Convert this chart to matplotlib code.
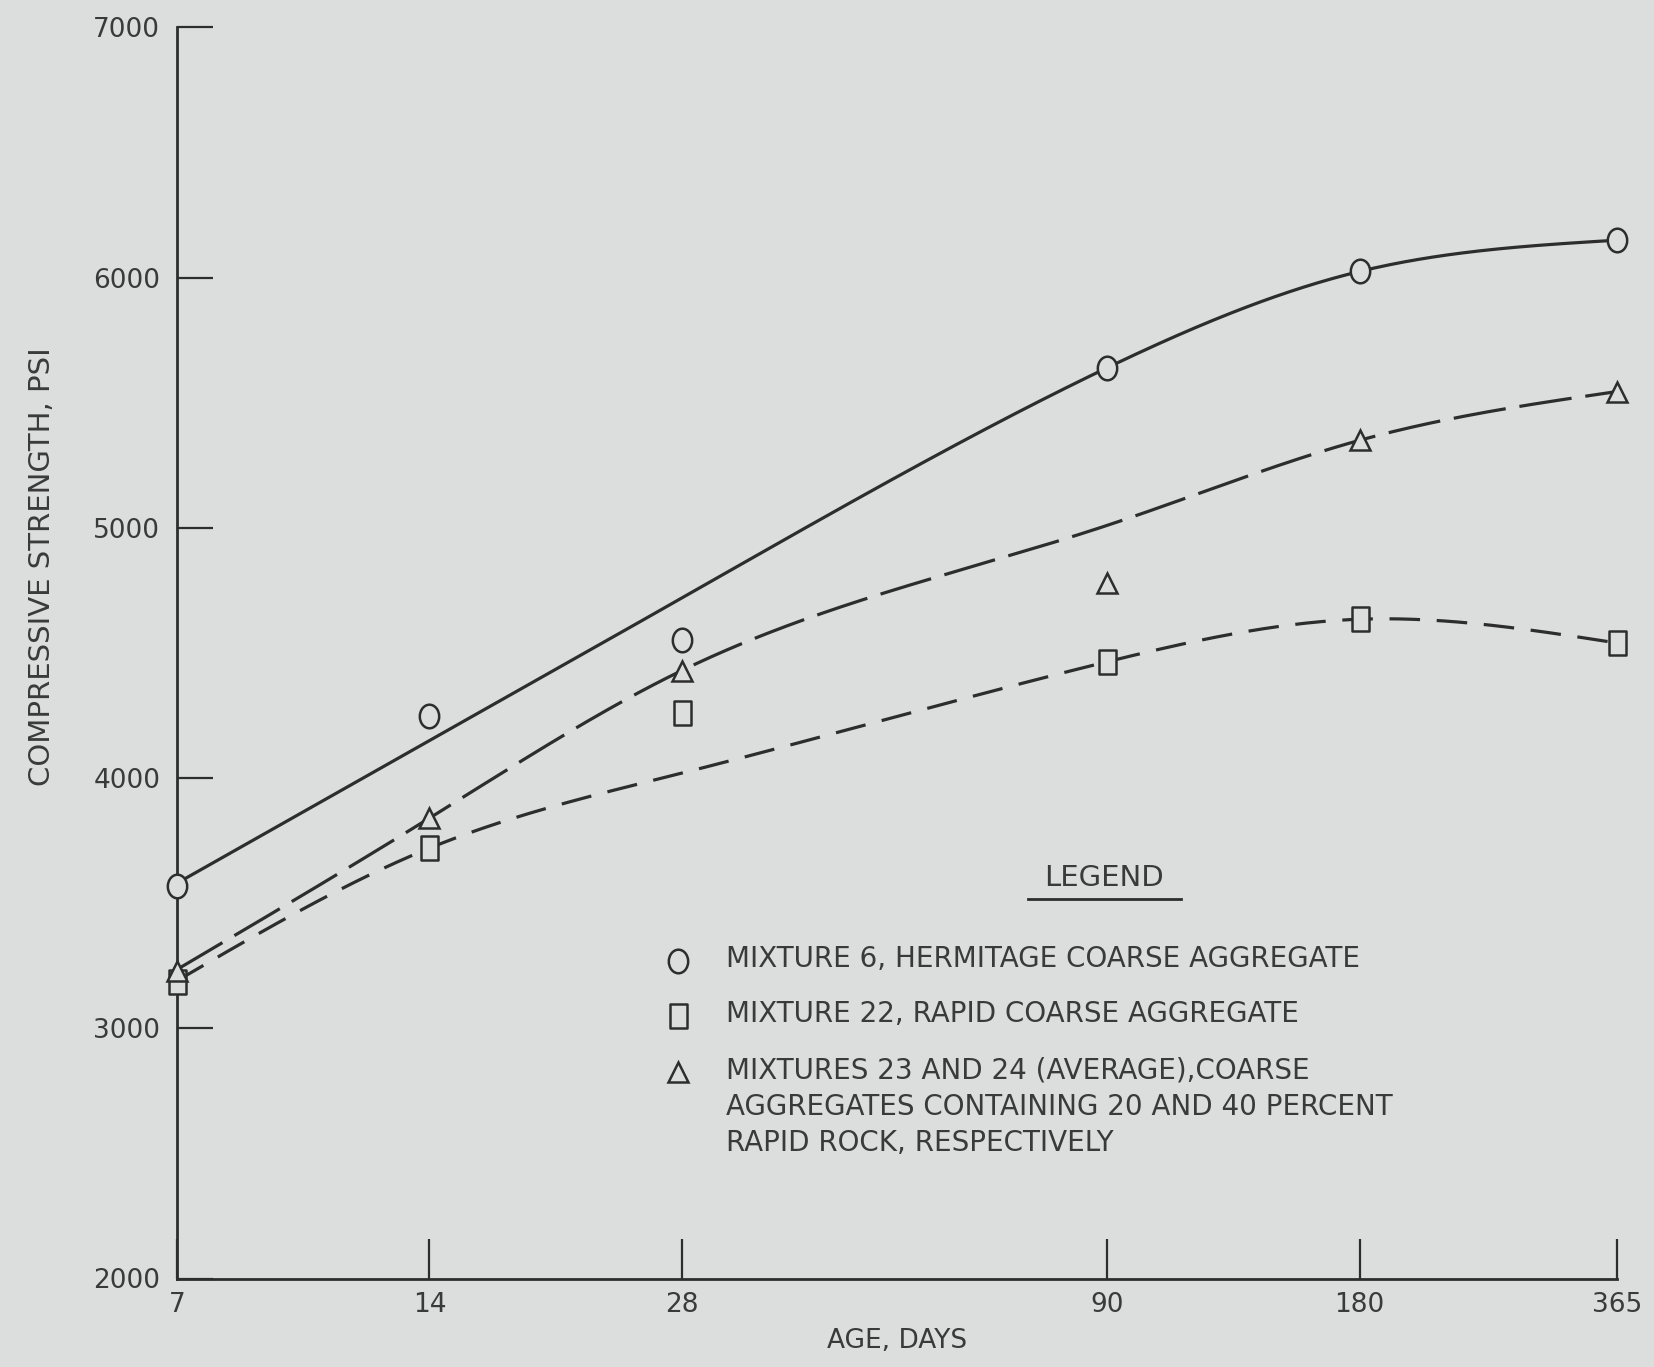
import numpy as np
import matplotlib
matplotlib.use("Agg")
import matplotlib.pyplot as plt
from matplotlib.path import Path
from matplotlib.lines import Line2D

# Test ages (days) and axis labels
ages = [7, 14, 28, 90, 180, 365]
age_labels = ["7", "14", "28", "90", "180", "365"]
strength_ticks = [2000, 3000, 4000, 5000, 6000, 7000]

# Measured compressive strength, psi
hermitage_psi = [3570, 4250, 4550, 5640, 6025, 6150]
rapid_psi = [3185, 3720, 4260, 4465, 4635, 4540]
blend_psi = [3230, 3840, 4430, 4780, 5350, 5545]

# Ordinates of the faired trend curves at each test age, psi
hermitage_curve = [3580, 4150, 4720, 5640, 6025, 6150]
rapid_curve = [3190, 3720, 4020, 4465, 4635, 4540]
blend_curve = [3235, 3840, 4430, 5010, 5350, 5545]

legend_entries = [
    "MIXTURE 6, HERMITAGE COARSE AGGREGATE",
    "MIXTURE 22, RAPID COARSE AGGREGATE",
    "MIXTURES 23 AND 24 (AVERAGE),COARSE\nAGGREGATES CONTAINING 20 AND 40 PERCENT\nRAPID ROCK, RESPECTIVELY",
]

BG = "#dcdedd"
INK = "#2d2d2d"
TXT = "#3a3a3a"


def smooth(x, y, n=400):
    """Natural cubic spline through (log x, y) for drawing a faired curve."""
    u = np.log(np.asarray(x, float))
    y = np.asarray(y, float)
    k = len(u)
    h = np.diff(u)
    A = np.zeros((k, k))
    b = np.zeros(k)
    A[0, 0] = A[-1, -1] = 1.0
    for i in range(1, k - 1):
        A[i, i - 1] = h[i - 1]
        A[i, i] = 2 * (h[i - 1] + h[i])
        A[i, i + 1] = h[i]
        b[i] = 6 * ((y[i + 1] - y[i]) / h[i] - (y[i] - y[i - 1]) / h[i - 1])
    M = np.linalg.solve(A, b)
    us = np.linspace(u[0], u[-1], n)
    j = np.clip(np.searchsorted(u, us) - 1, 0, k - 2)
    t0 = u[j + 1] - us
    t1 = us - u[j]
    hj = h[j]
    ys = (M[j] * t0 ** 3 + M[j + 1] * t1 ** 3) / (6 * hj) \
        + (y[j] / hj - M[j] * hj / 6) * t0 + (y[j + 1] / hj - M[j + 1] * hj / 6) * t1
    return np.exp(us), ys


# Slightly upright marker shapes
ellipse = Path(Path.unit_circle().vertices * np.array([0.82, 1.0]), Path.unit_circle().codes)
tall_box = Path([(-0.72, -1), (0.72, -1), (0.72, 1), (-0.72, 1), (-0.72, -1)],
                [Path.MOVETO, Path.LINETO, Path.LINETO, Path.LINETO, Path.CLOSEPOLY])

plt.rcParams["font.family"] = ["DejaVu Sans"]
plt.rcParams["lines.scale_dashes"] = False

fig = plt.figure(figsize=(16.54, 13.67), dpi=100, facecolor=BG)
ax = fig.add_axes([177 / 1654, 1 - 1278.5 / 1367, 1440 / 1654, 1251 / 1367])
ax.set_facecolor(BG)

ax.set_xscale("log")
ax.set_xlim(7, 365)
ax.set_ylim(2000, 7000)

# Faired curves
xs, ys = smooth(ages, hermitage_curve)
ax.plot(xs, ys, color=INK, lw=2.3, solid_capstyle="butt", zorder=2)
xs, ys = smooth(ages, blend_curve)
ax.plot(xs, ys, color=INK, lw=2.3, dashes=(38, 10), dash_capstyle="butt", zorder=2)
xs, ys = smooth(ages, rapid_curve)
ax.plot(xs, ys, color=INK, lw=2.3, dashes=(22, 12), dash_capstyle="butt", zorder=2)

# Measured points
mk = dict(linestyle="none", markerfacecolor=BG, markeredgecolor=INK,
          markeredgewidth=1.8, clip_on=False, zorder=3)
ax.plot(ages, hermitage_psi, marker=ellipse, markersize=17, **mk)
ax.plot(ages, rapid_psi, marker=tall_box, markersize=17, **mk)
ax.plot(ages, blend_psi, marker="^", markersize=15, **mk)

# Axes styling
for side in ("top", "right"):
    ax.spines[side].set_visible(False)
for side in ("left", "bottom"):
    ax.spines[side].set_linewidth(2.0)
    ax.spines[side].set_color(INK)

ax.set_xticks(ages)
ax.set_xticklabels(age_labels)
ax.xaxis.set_minor_locator(matplotlib.ticker.NullLocator())
ax.set_yticks(strength_ticks)
ax.set_yticklabels([str(v) for v in strength_ticks])
ax.tick_params(axis="x", direction="in", length=29, width=1.6, color=INK,
               labelsize=19, labelcolor=TXT, pad=10)
ax.tick_params(axis="y", direction="in", length=26, width=1.6, color=INK,
               labelsize=19, labelcolor=TXT, pad=12)

ax.set_xlabel("AGE, DAYS", fontsize=19, color=TXT, labelpad=7)
fig.text(42 / 1654, 1 - 567 / 1367, "COMPRESSIVE STRENGTH, PSI", rotation=90,
         ha="center", va="center", fontsize=21, color=TXT)

# Legend block
ax.text(0.6438, 0.3201, "LEGEND", transform=ax.transAxes, ha="center", va="center",
        fontsize=21, color=TXT)
ax.add_line(Line2D([0.591, 0.697], [0.3034, 0.3034], transform=ax.transAxes,
                   color=INK, lw=2.0))

legend_markers = [ellipse, tall_box, "^"]
legend_sizes = [17, 17, 15]
row_y = [0.2538, 0.2098, 0.165]
for m, s, yy, label in zip(legend_markers, legend_sizes, row_y, legend_entries):
    ax.plot([0.348], [yy], transform=ax.transAxes, marker=m, markersize=s, **mk)
    ax.text(0.381, yy + 0.0125, label, transform=ax.transAxes, ha="left", va="top",
            fontsize=20, color=TXT, linespacing=1.38)

fig.savefig("out.png", dpi=100, facecolor=BG)
